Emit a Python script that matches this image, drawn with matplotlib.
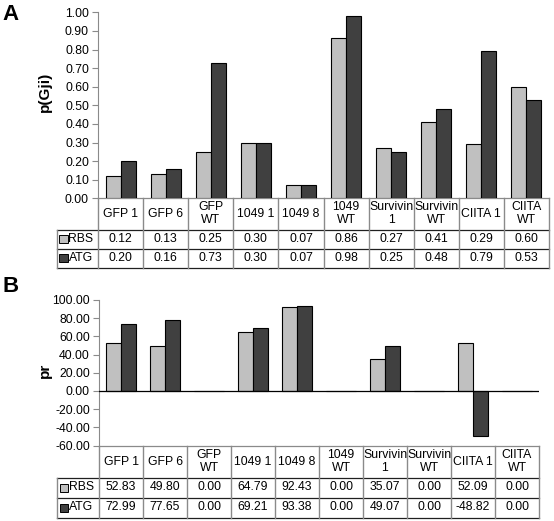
import matplotlib.pyplot as plt
from matplotlib.lines import Line2D
from matplotlib.patches import Rectangle

plt.rcParams['font.family'] = ['Liberation Sans', 'DejaVu Sans']

# ---------------------------------------------------------------------------
# data
# ---------------------------------------------------------------------------
categories = ["GFP 1", "GFP 6", "GFP\nWT", "1049 1", "1049 8", "1049\nWT",
              "Survivin\n1", "Survivin\nWT", "CIITA 1", "CIITA\nWT"]
series_names = ["RBS", "ATG"]

pg_rbs = [0.12, 0.13, 0.25, 0.30, 0.07, 0.86, 0.27, 0.41, 0.29, 0.60]
pg_atg = [0.20, 0.16, 0.73, 0.30, 0.07, 0.98, 0.25, 0.48, 0.79, 0.53]

pr_rbs = [52.83, 49.80, 0.00, 64.79, 92.43, 0.00, 35.07, 0.00, 52.09, 0.00]
pr_atg = [72.99, 77.65, 0.00, 69.21, 93.38, 0.00, 49.07, 0.00, -48.82, 0.00]

pg_ticks = [0.0, 0.1, 0.2, 0.3, 0.4, 0.5, 0.6, 0.7, 0.8, 0.9, 1.0]
pr_ticks = [-60, -40, -20, 0, 20, 40, 60, 80, 100]

colors = ["#c0c0c0", "#404040"]
grid_gray = "#8a8a8a"
fs = 8.8

W, H = 554, 521
fig = plt.figure(figsize=(W / 100, H / 100), dpi=100)


def panel(left, right, top, bottom, rbs, atg, ticks, ylabel, label_y,
          letter, letter_y, row_edges, zero_line):
    ax = fig.add_axes([left / W, 1 - bottom / H, (right - left) / W, (bottom - top) / H])
    n = len(categories)
    xs = list(range(n))
    bw = 0.333
    ax.bar([x - bw / 2 for x in xs], rbs, bw, color=colors[0], edgecolor="black", lw=0.8, zorder=3)
    ax.bar([x + bw / 2 for x in xs], atg, bw, color=colors[1], edgecolor="black", lw=0.8, zorder=3)
    ax.set_xlim(-0.5, n - 0.5)
    ax.set_ylim(ticks[0], ticks[-1])
    ax.set_yticks(ticks)
    ax.set_yticklabels([f"{t:.2f}" for t in ticks], fontsize=fs)
    ax.set_xticks([])
    for s in ["top", "right", "bottom"]:
        ax.spines[s].set_visible(False)
    ax.spines["left"].set_color(grid_gray)
    ax.tick_params(axis="y", direction="out", length=4, width=0.8, color=grid_gray, pad=2.5)
    if zero_line:
        ax.axhline(0, color="black", lw=0.9, zorder=4)

    # table below the plot, row edges given in pixels
    h_px = bottom - top
    col_px = (right - left) / n
    tr = ax.get_xaxis_transform()
    fy = lambda ypix: -(ypix - bottom) / h_px
    x_leg = -0.5 - (left - 57) / col_px
    y0, y1, y2, y3 = row_edges

    def hline(xa, xb, y, c="#202020"):
        ax.add_line(Line2D([xa, xb], [fy(y), fy(y)], transform=tr, color=c, lw=0.9, clip_on=False))

    def vline(x, ya, yb, c=grid_gray):
        ax.add_line(Line2D([x, x], [fy(ya), fy(yb)], transform=tr, color=c, lw=1.0, clip_on=False))

    hline(-0.5, n - 0.5, y0, c=grid_gray)
    hline(x_leg, n - 0.5, y1)
    hline(x_leg, n - 0.5, y2)
    hline(x_leg, n - 0.5, y3)
    vline(-0.5, y0, y3)
    vline(x_leg, y1, y3)
    for i in range(n):
        vline(i + 0.5, y0, y3)

    for i, cat in enumerate(categories):
        ax.text(i, fy((y0 + y1) / 2), cat, transform=tr, ha="center", va="center",
                fontsize=fs, linespacing=1.1)
        ax.text(i, fy((y1 + y2) / 2), f"{rbs[i]:.2f}", transform=tr, ha="center",
                va="center", fontsize=fs)
        ax.text(i, fy((y2 + y3) / 2), f"{atg[i]:.2f}", transform=tr, ha="center",
                va="center", fontsize=fs)

    sq = 8 / col_px
    for k, (name, ya, yb) in enumerate([(series_names[0], y1, y2), (series_names[1], y2, y3)]):
        ym = (ya + yb) / 2
        ax.add_patch(Rectangle((x_leg + 2.5 / col_px, fy(ym + 4)), sq, 8 / h_px, transform=tr,
                               facecolor=colors[k], edgecolor="black", lw=0.7, clip_on=False))
        ax.text(x_leg + 11.5 / col_px, fy(ym), name, transform=tr, ha="left", va="center",
                fontsize=fs)

    fig.text(45 / W, 1 - label_y / H, ylabel, rotation=90, ha="center", va="center",
             fontsize=11, fontweight="bold")
    fig.text(2 / W, 1 - letter_y / H, letter, ha="left", va="center",
             fontsize=16, fontweight="bold")
    return ax


panel(98, 549, 12.3, 198.3, pg_rbs, pg_atg, pg_ticks, "p(Gji)", 92, "A", 15,
      (198.3, 229.5, 248.5, 267.5), False)
panel(99, 539, 299.8, 445.7, pr_rbs, pr_atg, pr_ticks, "pr", 370, "B", 286,
      (445.7, 477.5, 497.5, 517.5), True)

fig.savefig("out.png", dpi=100)
